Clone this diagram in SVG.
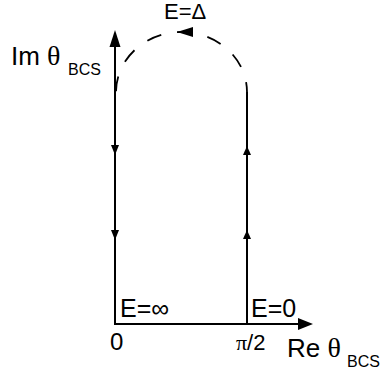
<svg xmlns="http://www.w3.org/2000/svg" width="381" height="376" viewBox="0 0 381 376">
<style>
.ln{stroke:#000;stroke-width:2;fill:none}
.ds{stroke:#000;stroke-width:1.8;fill:none;stroke-dasharray:15 16;stroke-dashoffset:5}
.ah{fill:#000;stroke:none}
.t{font-family:"Liberation Sans",Arial,sans-serif;fill:#000}
.g{font-family:"Liberation Serif","Times New Roman",serif}
</style>
<rect width="381" height="376" fill="#fff"/>
<g id="connectors">
<line class="ln" x1="115" y1="324" x2="115" y2="45"/>
<polygon class="ah" points="115,30 109.5,47 120.5,47"/>
<line class="ln" x1="114" y1="324" x2="299" y2="324"/>
<polygon class="ah" points="313,324 298,318 298,330"/>
<line class="ln" x1="247" y1="324" x2="247" y2="92"/>
<path class="ds" d="M247,92 A65.5,60 0 0 0 116,92"/>
<polygon class="ah" points="177,32 193,27 193,37"/>
<polygon class="ah" points="115,155 111,145 119,145"/>
<polygon class="ah" points="115,240 111,230 119,230"/>
<polygon class="ah" points="247,146 243,155 251,155"/>
<polygon class="ah" points="247,230 243,239 251,239"/>
</g>
<g id="im-axis-label"><text class="t" x="11" y="65" font-size="26">Im <tspan class="g" font-size="28">θ</tspan></text><text class="t" x="68" y="75" font-size="16">BCS</text></g>
<g id="re-axis-label"><text class="t" x="287" y="357" font-size="26">Re <tspan class="g" font-size="28">θ</tspan></text><text class="t" x="347" y="367" font-size="16">BCS</text></g>
<g id="e-delta"><text class="t" x="164" y="19" font-size="22">E=Δ</text></g>
<g id="e-inf"><text class="t" x="120" y="317" font-size="25">E=∞</text></g>
<g id="e-zero"><text class="t" x="251" y="317" font-size="25">E=0</text></g>
<g id="tick-0"><text class="t" x="110" y="350" font-size="24">0</text></g>
<g id="tick-pi2"><text class="t" x="236" y="350" font-size="22"><tspan class="g">π</tspan>/2</text></g>
</svg>
